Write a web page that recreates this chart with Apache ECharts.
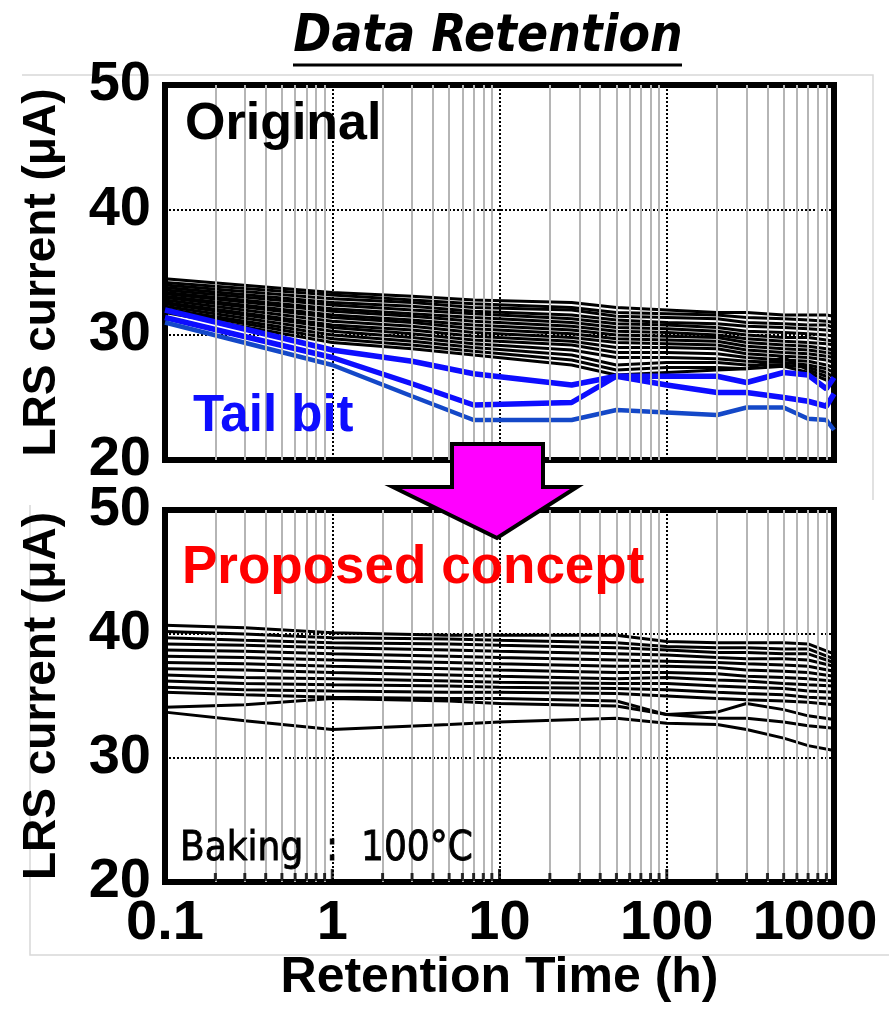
<!DOCTYPE html>
<html>
<head>
<meta charset="utf-8">
<script src="https://cdn.jsdelivr.net/npm/echarts@6/dist/echarts.min.js"></script>
<style>
  html, body { margin: 0; padding: 0; background: #fff; }
  #chart { width: 889px; height: 1012px; }
</style>
</head>
<body>
<div id="chart"></div>
<script>
// retention times (h)
const topTimes = [0.1, 1, 3, 7, 27, 50, 100, 200, 300, 500, 700, 900, 1000];
const bottomTimes = [0.1, 0.3, 1, 5, 10, 50, 100, 200, 300, 500, 700, 1000];

// Original: normal cells (uA)
const originalCells = [
  [34.5, 33.4, 33.1, 32.8, 32.6, 32.2, 32.0, 31.8, 31.8, 31.6, 31.6, 31.6, 31.5],
  [34.2, 33.2, 32.8, 32.5, 32.2, 31.8, 31.7, 31.6, 31.4, 31.3, 31.2, 31.1, 31.0],
  [34.0, 32.9, 32.6, 32.2, 32.0, 31.5, 31.4, 31.3, 31.0, 30.9, 30.8, 30.8, 30.6],
  [33.8, 32.6, 32.3, 31.9, 31.6, 31.2, 31.0, 30.9, 30.7, 30.6, 30.5, 30.4, 30.3],
  [33.6, 32.4, 32.0, 31.7, 31.3, 30.9, 30.8, 30.6, 30.3, 30.2, 30.1, 30.0, 29.9],
  [33.4, 32.1, 31.7, 31.4, 31.0, 30.6, 30.5, 30.3, 30.0, 29.8, 29.8, 29.6, 29.5],
  [33.3, 31.9, 31.5, 31.1, 30.7, 30.3, 30.2, 30.0, 29.7, 29.5, 29.4, 29.3, 29.2],
  [33.1, 31.6, 31.2, 30.8, 30.4, 30.0, 29.9, 29.8, 29.4, 29.2, 29.1, 28.9, 28.8],
  [33.0, 31.4, 31.0, 30.5, 30.1, 29.7, 29.6, 29.5, 29.1, 28.9, 28.8, 28.6, 28.5],
  [32.8, 31.1, 30.7, 30.2, 29.8, 29.4, 29.3, 29.2, 28.8, 28.6, 28.5, 28.3, 28.2],
  [32.6, 30.8, 30.4, 29.9, 29.5, 29.0, 29.0, 28.9, 28.5, 28.3, 28.2, 28.0, 27.8],
  [32.5, 30.6, 30.1, 29.6, 29.2, 28.6, 28.6, 28.5, 28.2, 28.0, 27.9, 27.6, 27.4],
  [32.3, 30.3, 29.8, 29.3, 28.8, 28.2, 28.2, 28.1, 27.9, 27.8, 27.6, 27.3, 27.0],
  [32.1, 30.0, 29.5, 29.0, 28.4, 27.6, 27.8, 27.8, 27.6, 27.6, 27.4, 27.0, 26.6],
  [32.0, 29.7, 29.2, 28.7, 28.0, 27.2, 27.4, 27.4, 27.3, 28.2, 27.2, 26.7, 26.2],
  [31.8, 29.4, 28.9, 28.4, 27.6, 26.8, 27.0, 27.2, 27.3, 27.5, 27.0, 26.4, 25.9]
];

// Original: tail bits (uA)
const tailBits = [
  [32.0, 28.8, 27.9, 26.9, 26.0, 26.7, 26.7, 26.7, 26.2, 27.0, 26.8, 25.7, 26.6],
  [31.4, 28.2, 26.1, 24.4, 24.6, 26.7, 26.0, 25.4, 25.4, 25.0, 24.7, 24.3, 25.3],
  [31.0, 27.6, 25.1, 23.2, 23.2, 24.0, 23.8, 23.6, 24.2, 24.2, 23.3, 23.2, 22.4]
];
const tailColors = ['#0d0dff', '#0d0dff', '#1448c8'];
const tailWidths = [5.5, 5.5, 4.5];

// Proposed concept (uA)
const proposedCells = [
  [40.7, 40.5, 40.1, 39.9, 39.9, 39.9, 39.4, 39.3, 39.3, 39.3, 39.2, 38.4],
  [40.2, 40.0, 39.7, 39.6, 39.5, 39.3, 39.0, 38.9, 38.9, 38.8, 38.8, 38.0],
  [39.7, 39.5, 39.3, 39.2, 39.1, 38.9, 38.7, 38.5, 38.5, 38.4, 38.4, 37.7],
  [39.2, 39.1, 38.9, 38.7, 38.6, 38.4, 38.3, 38.1, 38.0, 38.0, 37.9, 37.4],
  [38.7, 38.6, 38.4, 38.2, 38.1, 37.9, 37.8, 37.7, 37.6, 37.5, 37.4, 37.0],
  [38.2, 38.1, 37.9, 37.7, 37.6, 37.4, 37.4, 37.3, 37.1, 37.0, 36.9, 36.6],
  [37.7, 37.6, 37.4, 37.2, 37.1, 36.9, 36.9, 36.8, 36.6, 36.5, 36.4, 36.2],
  [37.2, 37.1, 36.9, 36.7, 36.6, 36.4, 36.5, 36.3, 36.2, 36.0, 35.9, 35.8],
  [36.7, 36.5, 36.4, 36.2, 36.1, 36.0, 36.0, 35.8, 35.7, 35.6, 35.4, 35.3],
  [36.2, 36.0, 35.9, 35.8, 35.7, 35.6, 35.5, 35.3, 35.2, 35.1, 34.9, 34.8],
  [35.7, 35.5, 35.4, 35.3, 35.3, 35.2, 35.0, 34.8, 34.7, 34.6, 34.5, 34.3],
  [35.3, 35.1, 34.9, 34.8, 34.8, 34.6, 33.5, 33.7, 34.4, 33.9, 33.4, 33.1],
  [34.1, 34.3, 34.8, 34.6, 34.4, 34.2, 33.5, 33.2, 33.2, 32.9, 32.6, 32.4],
  [33.7, 33.0, 32.3, 32.7, 32.9, 33.2, 32.8, 32.7, 32.3, 31.6, 31.0, 30.6]
];

// axis ticks
const yTicks = [20, 30, 40, 50];
const xTickLabels = ['0.1', '1', '10', '100', '1000'];
const minorTicks = [0.2, 0.3, 0.4, 0.5, 0.6, 0.7, 0.8, 0.9,
  2, 3, 4, 5, 6, 7, 8, 9,
  20, 30, 40, 50, 60, 70, 80, 90,
  200, 300, 400, 500, 600, 700, 800, 900];
const decadeTicks = [1, 10, 100];

const font = '"Liberation Sans", Arial, sans-serif';
const condFont = '"DejaVu Sans Condensed", "DejaVu Sans", sans-serif';
const chart = echarts.init(document.getElementById('chart'));

function pairs(times, vals) {
  return times.map((t, i) => [t, vals[i]]);
}

const grids = [
  { left: 165, top: 85, width: 669, height: 375 },
  { left: 165, top: 510, width: 669, height: 372 }
];

const series = [];
// light vertical grid lines
grids.forEach((g, i) => {
  series.push({
    type: 'line', xAxisIndex: i, yAxisIndex: i, data: [], z: 1,
    markLine: {
      silent: true, symbol: 'none', animation: false,
      label: { show: false },
      lineStyle: { color: '#b5b5b5', type: 'solid', width: 2 },
      data: minorTicks.map(v => ({ xAxis: v }))
    }
  });
});
originalCells.forEach(vals => {
  series.push({
    type: 'line', xAxisIndex: 0, yAxisIndex: 0, symbol: 'none', z: 3,
    lineStyle: { color: '#000', width: 3 },
    data: pairs(topTimes, vals)
  });
});
tailBits.forEach((vals, i) => {
  series.push({
    type: 'line', xAxisIndex: 0, yAxisIndex: 0, symbol: 'none', z: 4,
    lineStyle: { color: tailColors[i], width: tailWidths[i] },
    data: pairs(topTimes, vals)
  });
});
proposedCells.forEach(vals => {
  series.push({
    type: 'line', xAxisIndex: 1, yAxisIndex: 1, symbol: 'none', z: 3,
    lineStyle: { color: '#000', width: 3 },
    data: pairs(bottomTimes, vals)
  });
});
// inward ticks on bottom frame
series.push({
  type: 'scatter', xAxisIndex: 1, yAxisIndex: 1, silent: true, clip: false, z: 5,
  symbol: 'rect', symbolSize: [3, 8], symbolOffset: [0, -5],
  itemStyle: { color: '#000' },
  data: minorTicks.map(v => [v, yTicks[0]])
});
series.push({
  type: 'scatter', xAxisIndex: 1, yAxisIndex: 1, silent: true, clip: false, z: 5,
  symbol: 'rect', symbolSize: [3, 12], symbolOffset: [0, -7],
  itemStyle: { color: '#000' },
  data: decadeTicks.map(v => [v, yTicks[0]])
});

const option = {
  animation: false,
  backgroundColor: '#fff',
  grid: grids.map(g => Object.assign({ show: true, borderColor: '#000', borderWidth: 6 }, g)),
  xAxis: grids.map((g, i) => ({
    type: 'log', logBase: 10, min: 0.1, max: 1000, gridIndex: i,
    axisLine: { show: false }, axisTick: { show: false },
    splitLine: { show: true, lineStyle: { color: '#000', type: 'dotted', width: 2 } },
    axisLabel: {
      show: i === 1, margin: 14, color: '#000',
      fontFamily: font, fontWeight: 'bold', fontSize: 56,
      formatter: v => {
        const idx = Math.round(Math.log10(v)) + 1;
        return idx === 4 ? '{r|' + xTickLabels[idx] + '}' : xTickLabels[idx];
      },
      rich: { r: { fontFamily: font, fontWeight: 'bold', fontSize: 56, color: '#000', padding: [0, 38, 0, 0] } }
    },
    name: i === 1 ? 'Retention Time (h)' : '',
    nameLocation: 'middle', nameGap: 62,
    nameTextStyle: { fontFamily: font, fontWeight: 'bold', fontSize: 50, color: '#000' }
  })),
  yAxis: grids.map((g, i) => ({
    type: 'value', min: yTicks[0], max: yTicks[3], interval: 10, gridIndex: i,
    axisLine: { show: false }, axisTick: { show: false },
    splitLine: { lineStyle: { color: '#000', type: 'dotted', width: 2 } },
    axisLabel: { margin: 14, color: '#000', fontFamily: font, fontWeight: 'bold', fontSize: 56 },
    name: 'LRS current (μA)', nameLocation: 'middle', nameGap: 100,
    nameTextStyle: { fontFamily: font, fontWeight: 'bold', fontSize: 46, color: '#000' }
  })),
  graphic: [
    // faint slide frames
    { type: 'polyline', z: 0, silent: true, shape: { points: [[22, 75], [873, 75], [873, 500]] }, style: { stroke: '#d8d8d8', lineWidth: 1.5, fill: null } },
    { type: 'polyline', z: 0, silent: true, shape: { points: [[30, 505], [30, 955], [889, 955]] }, style: { stroke: '#d8d8d8', lineWidth: 1.5, fill: null } },
    // title
    { type: 'text', z: 10, style: { x: 488, y: 38, text: 'Data Retention', textAlign: 'center', textVerticalAlign: 'middle',
      fontFamily: condFont, fontStyle: 'italic', fontWeight: 'bold', fontSize: 51, fill: '#000' } },
    { type: 'line', z: 10, shape: { x1: 293, y1: 65, x2: 682, y2: 65 }, style: { stroke: '#000', lineWidth: 3 } },
    // panel labels
    { type: 'text', z: 10, style: { x: 185, y: 125, text: 'Original', textVerticalAlign: 'middle',
      fontFamily: font, fontWeight: 'bold', fontSize: 52, fill: '#000' } },
    { type: 'text', z: 10, style: { x: 193, y: 417, text: 'Tail bit', textVerticalAlign: 'middle',
      fontFamily: font, fontWeight: 'bold', fontSize: 51, fill: '#0d0dff' } },
    { type: 'text', z: 10, style: { x: 182, y: 568, text: 'Proposed concept', textVerticalAlign: 'middle',
      fontFamily: font, fontWeight: 'bold', fontSize: 53, fill: '#ff0000' } },
    { type: 'text', z: 10, style: { x: 180, y: 850, text: 'Baking  :  100°C', textVerticalAlign: 'middle',
      fontFamily: condFont, fontSize: 40, fill: '#000', stroke: '#000', lineWidth: 0.8 } },
    // arrow
    { type: 'polygon', z: 20, shape: { points: [[452, 444], [543, 444], [543, 487], [577, 487], [497, 538], [393, 487], [452, 487]] },
      style: { fill: '#ff00ff', stroke: '#000', lineWidth: 4, lineJoin: 'miter' } }
  ],
  series: series
};

chart.setOption(option);
</script>
</body>
</html>
